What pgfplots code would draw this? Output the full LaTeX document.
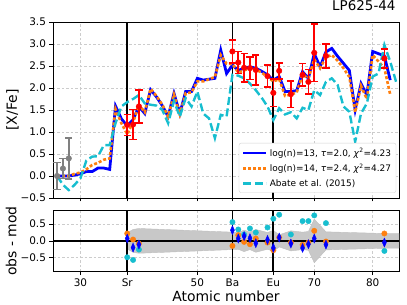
\documentclass[border=0pt]{standalone}
\usepackage{fontspec}
\setmainfont{DejaVu Sans}
\usepackage{pgfplots}
\usepackage{pgfplotstable}
\pgfplotsset{compat=1.18}
\definecolor{mblue}{HTML}{0000FF}
\definecolor{taborange}{HTML}{FF7F0E}
\definecolor{tabcyan}{HTML}{17BECF}
\definecolor{bandgray}{HTML}{C8C8C8}

% model lines: Z, log(n)=13, log(n)=14
\pgfplotstableread{
Z b13 o14
26 0.00 0.00
27 0.00 0.00
28 0.00 0.00
29 0.02 0.05
30 0.05 0.08
31 0.10 0.15
32 0.10 0.25
33 0.18 0.30
34 0.18 0.37
35 0.15 0.40
36 1.59 1.52
37 1.30 1.20
38 1.14 0.95
39 1.28 1.22
40 1.58 1.62
41 1.42 1.45
42 1.96 1.98
43 1.80 1.82
44 1.60 1.62
45 1.35 1.35
46 1.88 1.85
47 1.42 1.40
48 1.92 1.88
49 1.92 1.90
50 2.22 2.15
51 2.18 2.15
52 2.20 2.20
53 2.22 2.25
54 2.86 2.75
55 2.33 2.55
56 2.52 2.55
57 2.40 2.35
58 2.45 2.40
59 2.48 2.45
60 2.45 2.42
61 2.38 2.35
62 2.30 2.25
63 2.18 2.15
64 2.26 2.20
65 1.92 1.82
66 1.92 1.85
67 1.94 1.90
68 2.37 2.30
69 2.22 2.22
70 2.78 2.65
71 2.48 2.45
72 2.82 2.70
73 2.90 2.75
74 2.72 2.62
75 2.56 2.45
76 2.40 2.25
77 1.50 1.45
78 2.10 2.05
79 1.84 1.75
80 2.83 2.75
81 2.78 2.60
82 2.73 2.45
83 2.18 1.85
}\models

\pgfplotstableread{
Z ab
26 0.00
27 -0.20
28 -0.32
29 -0.20
30 -0.05
31 0.35
32 0.44
33 0.45
34 0.70
35 0.70
36 1.20
37 1.58
38 1.68
39 1.75
40 1.84
41 1.65
42 1.62
43 1.60
44 1.50
45 1.20
46 1.70
47 1.35
48 1.77
49 1.58
50 1.92
51 1.42
52 1.31
53 0.86
54 1.39
55 1.35
56 2.30
57 2.28
58 2.22
59 2.10
60 1.95
61 1.78
62 1.58
63 1.27
64 1.54
65 1.40
66 1.45
67 1.31
68 1.55
69 1.50
70 1.95
71 1.84
72 2.14
73 2.22
74 2.07
75 1.58
76 1.46
77 0.78
78 1.42
79 1.65
80 2.26
81 2.33
82 2.98
83 2.60
84 2.14
}\abate

\pgfplotsset{
  common/.style={
    scale only axis, width=346bp,
    xmin=25.3, xmax=84.5,
    xtick={30,38,50,56,63,70,80},
    tick align=outside, major tick length=3.5bp,
    xtick pos=left, ytick pos=left,
    grid=major,
    major grid style={gray!40, dash pattern=on 2.5bp off 2bp, line width=0.5bp},
    tick style={black, line width=0.6bp},
    axis line style={line width=0.8bp},
    ticklabel style={font=\fontsize{10.5}{12}\selectfont},
    label style={font=\fontsize{14}{16}\selectfont},
    /pgf/number format/assume math mode=true,
  },
  obs/.style={
    forget plot, only marks, color=#1, mark=*, mark size=2.8bp,
    mark options={fill=#1, draw=#1},
    error bars/y dir=both, error bars/y explicit,
    error bars/error mark=-,
    error bars/error bar style={draw=#1, line width=1.6bp, solid},
    error bars/error mark options={draw=#1, line width=1.6bp, mark size=3.6bp, rotate=90},
  },
}

\begin{document}
\begin{tikzpicture}
\begin{axis}[common, at={(0,0)}, anchor=north west, height=176bp,
  ymin=-0.5, ymax=3.5,
  ytick={-0.5,0,0.5,1,1.5,2,2.5,3,3.5},
  yticklabels={−0.5,0.0,0.5,1.0,1.5,2.0,2.5,3.0,3.5},
  xticklabels={},
  ylabel={[X/Fe]},
  ylabel style={at={(axis description cs:-0.117,0.5)}, anchor=center},
  title={LP625-44},
  title style={at={(axis description cs:1,1)}, anchor=base east, yshift=5.5bp, font=\fontsize{13.5}{15}\selectfont},
  legend style={at={(0.992,0.03)}, anchor=south east, draw=gray!35, rounded corners=2bp,
    fill=white, font=\fontsize{9}{10.5}\selectfont, row sep=1.8bp, inner xsep=3bp, inner ysep=3bp},
  legend cell align=left,
  legend image code/.code={\draw[#1] (0bp,0bp) -- (23bp,0bp);},
]
% vertical reference lines
\addplot[black, line width=1.7bp, forget plot] coordinates {(38,-0.5) (38,3.5)};
\addplot[black, line width=1.7bp, forget plot] coordinates {(56,-0.5) (56,3.5)};
\addplot[black, line width=1.7bp, forget plot] coordinates {(63,-0.5) (63,3.5)};

\addplot[mblue, line width=2.8bp] table[x=Z, y=b13] {\models};
\addlegendentry{log(n)=13, \textit{τ}=2.0, \textit{χ}\textsuperscript{2}=4.23}
\addplot[taborange, line width=2.6bp, dash pattern=on 3bp off 2bp] table[x=Z, y=o14] {\models};
\addlegendentry{log(n)=14, \textit{τ}=2.4, \textit{χ}\textsuperscript{2}=4.27}
\addplot[tabcyan, line width=2.4bp, dash pattern=on 8bp off 3.5bp] table[x=Z, y=ab] {\abate};
\addlegendentry{Abate et al. (2015)}

% iron-group observations
\addplot[obs=gray] coordinates {(26,0.00) +- (0,0.31) (27,0.17) +- (0,0.23) (28,0.40) +- (0,0.47)};

% neutron-capture observations
\addplot[obs=red] coordinates {
  (38,1.16) +- (0,0.24)
  (39,1.17) +- (0,0.34)
  (40,1.58) +- (0,0.37)
  (56,2.83) +- (0,0.26)
  (57,2.58) +- (0,0.25)
  (58,2.46) +- (0,0.32)
  (59,2.45) +- (0,0.26)
  (60,2.41) +- (0,0.34)
  (62,2.27) +- (0,0.25)
  (63,1.89) +- (0,0.31)
  (64,2.39) +- (0,0.18)
  (66,1.86) +- (0,0.30)
  (68,2.30) +- (0,0.26)
  (69,2.14) +- (0,0.28)
  (70,2.80) +- (0,0.65)
  (72,2.73) +- (0,0.27)
  (82,2.67) +- (0,0.22)
  };
\end{axis}

\begin{axis}[common, at={(0,-188.7bp)}, anchor=north west, height=61bp,
  ymin=-0.92, ymax=0.9,
  ytick={-0.5,0,0.5},
  yticklabels={−0.5,0.0,0.5},
  xticklabels={30,Sr,50,Ba,Eu,70,80},
  ylabel={obs - mod},
  ylabel style={at={(axis description cs:-0.121,0.5)}, anchor=center},
  xlabel={Atomic number},
  xlabel style={at={(axis description cs:0.5,0)}, anchor=base, yshift=-29.5bp},
]
% observational uncertainty band
\addplot[fill=bandgray, draw=gray!50, line width=0.4bp] coordinates {
  (38,0.24) (39,0.34) (40,0.37) (56,0.26) (57,0.25) (58,0.32) (59,0.26) (60,0.34)
  (62,0.25) (63,0.31) (64,0.18) (66,0.30) (68,0.26) (69,0.28) (70,0.65) (72,0.27)
  (82,0.22) (84.5,0.22)
  (84.5,-0.22) (82,-0.22) (72,-0.27) (70,-0.65) (69,-0.28) (68,-0.26) (66,-0.30)
  (64,-0.18) (63,-0.31) (62,-0.25) (60,-0.34) (59,-0.26) (58,-0.32) (57,-0.25)
  (56,-0.26) (40,-0.37) (39,-0.34) (38,-0.24)
  } -- cycle;
\addplot[black, line width=1.7bp] coordinates {(38,-0.92) (38,0.9)};
\addplot[black, line width=1.7bp] coordinates {(56,-0.92) (56,0.9)};
\addplot[black, line width=1.7bp] coordinates {(63,-0.92) (63,0.9)};
\addplot[black, line width=1.5bp] coordinates {(25.3,0) (84.5,0)};

\addplot[only marks, tabcyan, mark=*, mark size=2.7bp] coordinates {
  (38,-0.49) (39,-0.57) (40,-0.26) (56,0.56) (57,0.34) (58,0.19) (59,0.37) (60,0.25)
  (62,0.40) (63,0.66) (64,0.78) (66,0.19) (68,0.59) (69,0.59) (70,0.76) (72,0.53) (82,-0.30)};
\addplot[only marks, taborange, mark=*, mark size=2.7bp] coordinates {
  (38,0.22) (39,0.04) (40,-0.08) (56,-0.15) (57,0.17) (58,-0.03) (59,-0.10) (60,0.07)
  (62,-0.05) (63,-0.28) (64,0.10) (66,-0.05) (68,-0.12) (69,-0.05) (70,0.30) (72,-0.02) (82,0.22)};
\addplot[only marks, mblue, mark=diamond*, mark size=4.5bp, mark options={xscale=0.6}] coordinates {
  (38,0.07) (39,-0.20) (40,-0.11) (56,0.32) (57,0.07) (58,0.14) (59,0.08) (60,-0.07)
  (62,0.03) (63,-0.21) (64,0.10) (66,-0.08) (68,-0.21) (69,-0.10) (70,0.07) (72,-0.11) (82,-0.05)};
\end{axis}
\pgfresetboundingbox
\path[use as bounding box] (-53bp,22bp) rectangle (354bp,-283bp);
\end{tikzpicture}
\end{document}
